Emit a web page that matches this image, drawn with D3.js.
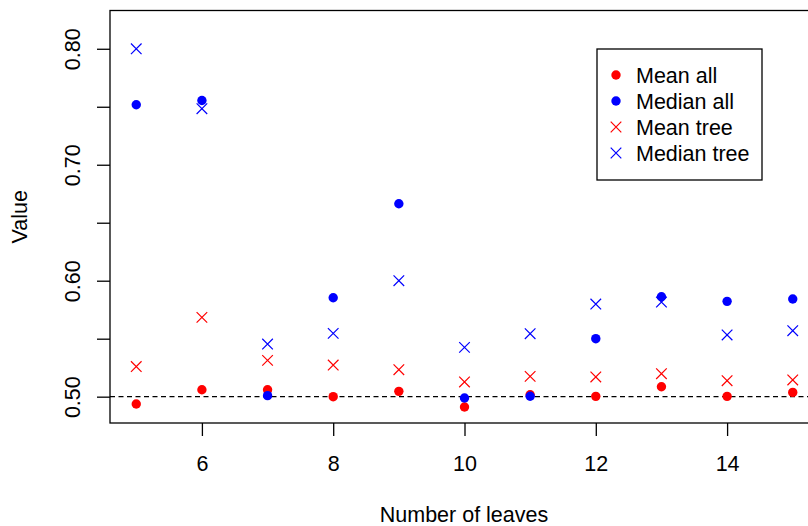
<!DOCTYPE html>
<html>
<head>
<meta charset="utf-8">
<script src="https://cdn.jsdelivr.net/npm/d3@7"></script>
<style>
  html, body { margin: 0; padding: 0; background: #fff; }
  svg { display: block; font-family: "Liberation Sans", Arial, sans-serif; }
</style>
</head>
<body>
<svg id="chart" width="808" height="526"></svg>
<script>
// Number of leaves on the x axis
const leaves = [5, 6, 7, 8, 9, 10, 11, 12, 13, 14, 15];

// Summary statistics per number of leaves
const meanAll    = [0.4937, 0.5060, 0.5060, 0.5000, 0.5046, 0.4911, 0.5017, 0.5003, 0.5086, 0.5003, 0.5037];
const medianAll  = [0.7517, 0.7554, 0.5009, 0.5853, 0.6664, 0.4989, 0.5004, 0.5500, 0.5862, 0.5822, 0.5842];
const meanTree   = [0.5260, 0.5684, 0.5313, 0.5273, 0.5233, 0.5127, 0.5175, 0.5170, 0.5198, 0.5138, 0.5144];
const medianTree = [0.8000, 0.7483, 0.5454, 0.5546, 0.6000, 0.5425, 0.5543, 0.5799, 0.5816, 0.5532, 0.5569];

const xTicks = [6, 8, 10, 12, 14];
const yTicks = [0.50, 0.55, 0.60, 0.65, 0.70, 0.75, 0.80];
const yLabelled = [0.50, 0.60, 0.70, 0.80];
const refLine = 0.5;

const series = [
  { name: "Mean all",    values: meanAll,    shape: "dot",   color: "#ff0000" },
  { name: "Median all",  values: medianAll,  shape: "dot",   color: "#0000ff" },
  { name: "Mean tree",   values: meanTree,   shape: "cross", color: "#ff0000" },
  { name: "Median tree", values: medianTree, shape: "cross", color: "#0000ff" }
];

const svg = d3.select("#chart");
const plot = { left: 110, top: 10.5, right: 819, bottom: 423 };

const x = d3.scaleLinear().domain([4.6, 15.4]).range([plot.left, plot.right]);
const y = d3.scaleLinear().domain([0.4773, 0.833]).range([plot.bottom, plot.top]);

const fontSize = 21.5;
const ink = "#000";

// Plot frame
svg.append("rect")
  .attr("x", plot.left).attr("y", plot.top)
  .attr("width", plot.right - plot.left).attr("height", plot.bottom - plot.top)
  .attr("fill", "none").attr("stroke", ink).attr("stroke-width", 1.3);

// Bottom axis
const xAxis = d3.axisBottom(x).tickValues(xTicks).tickSize(13).tickPadding(20)
  .tickFormat(d3.format("d"));
const gx = svg.append("g").attr("transform", `translate(0,${plot.bottom})`).call(xAxis);
gx.select(".domain").remove();
gx.selectAll(".tick line").attr("stroke", ink).attr("stroke-width", 1.3);
gx.selectAll(".tick text").attr("font-size", fontSize).attr("fill", ink)
  .attr("font-family", "Liberation Sans, Arial, sans-serif");

// Left axis (unlabelled ticks where labels would collide)
const yAxis = d3.axisLeft(y).tickValues(yTicks).tickSize(13).tickPadding(0)
  .tickFormat(d => yLabelled.some(v => Math.abs(v - d) < 1e-9) ? d3.format(".2f")(d) : "");
const gy = svg.append("g").attr("transform", `translate(${plot.left},0)`).call(yAxis);
gy.select(".domain").remove();
gy.selectAll(".tick line").attr("stroke", ink).attr("stroke-width", 1.3);
gy.selectAll(".tick text")
  .attr("font-size", fontSize).attr("fill", ink)
  .attr("font-family", "Liberation Sans, Arial, sans-serif")
  .attr("x", null).attr("dy", null)
  .attr("text-anchor", "middle")
  .attr("transform", "translate(-30,0) rotate(-90)");

// Axis titles
svg.append("text")
  .attr("x", (x(4.6) + x(15.4)) / 2 - 0.5).attr("y", 521.5)
  .attr("text-anchor", "middle").attr("font-size", fontSize).attr("fill", ink)
  .text("Number of leaves");
svg.append("text")
  .attr("transform", `translate(27,${(plot.top + plot.bottom) / 2}) rotate(-90)`)
  .attr("text-anchor", "middle").attr("font-size", fontSize).attr("fill", ink)
  .text("Value");

// Reference line at 0.5
svg.append("line")
  .attr("x1", plot.left).attr("x2", plot.right)
  .attr("y1", y(refLine)).attr("y2", y(refLine))
  .attr("stroke", ink).attr("stroke-width", 1.3).attr("stroke-dasharray", "5,3.5");

// Marks
const dotR = 4.7, crossH = 5.3;
function drawMark(g, shape, color, cx, cy) {
  if (shape === "dot") {
    g.append("circle").attr("cx", cx).attr("cy", cy).attr("r", dotR).attr("fill", color);
  } else {
    g.append("path")
      .attr("d", `M${cx - crossH},${cy - crossH}L${cx + crossH},${cy + crossH}M${cx - crossH},${cy + crossH}L${cx + crossH},${cy - crossH}`)
      .attr("stroke", color).attr("stroke-width", 1.2).attr("fill", "none");
  }
}

const marks = svg.append("g");
series.forEach(s => {
  s.values.forEach((v, i) => drawMark(marks, s.shape, s.color, x(leaves[i]), y(v)));
});

// Legend
const legend = { left: 597, top: 49, width: 165, height: 131, rowY: 75, rowStep: 26 };
svg.append("rect")
  .attr("x", legend.left).attr("y", legend.top)
  .attr("width", legend.width).attr("height", legend.height)
  .attr("fill", "#fff").attr("stroke", ink).attr("stroke-width", 1.3);
series.forEach((s, i) => {
  const cy = legend.rowY + i * legend.rowStep;
  drawMark(svg, s.shape, s.color, 616, cy);
  svg.append("text")
    .attr("x", 636).attr("y", cy).attr("dy", "0.36em")
    .attr("font-size", fontSize).attr("fill", ink)
    .text(s.name);
});
</script>
</body>
</html>
